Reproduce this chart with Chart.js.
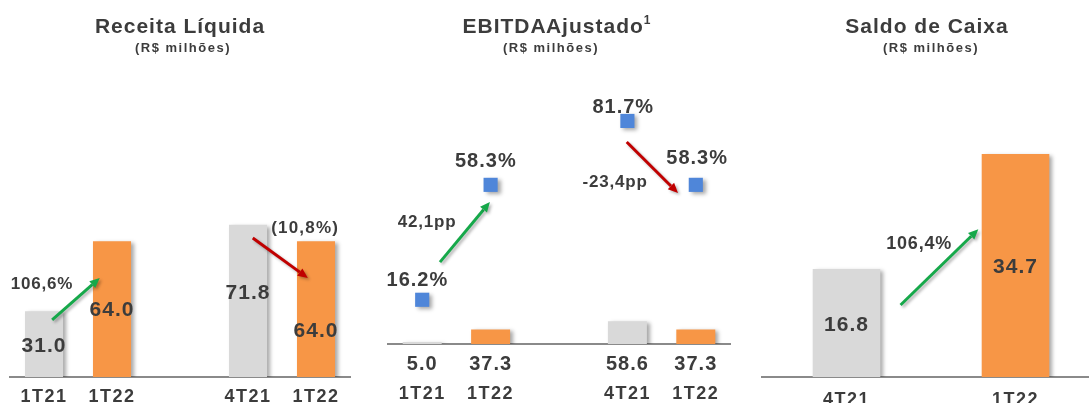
<!DOCTYPE html>
<html><head><meta charset="utf-8">
<script src="https://cdn.jsdelivr.net/npm/chart.js@4.4.1/dist/chart.umd.min.js"></script>
<style>
html,body{margin:0;padding:0;background:#fff;width:1089px;height:403px;overflow:hidden;position:relative;}
.panel{position:absolute;top:0;height:403px;}
.title{position:absolute;font-family:"Liberation Sans",Arial,sans-serif;font-weight:bold;color:#3c3c3c;white-space:nowrap;transform:translateX(-50%);line-height:normal;}
.t1{font-size:21px;top:14px;letter-spacing:1px;}
.t2{font-size:13px;top:40px;letter-spacing:1.5px;}
.t1 sup{font-size:12px;position:relative;top:-1px;}
</style></head><body>
<div class="panel" style="left:0;width:360px"><canvas id="c1"></canvas></div>
<div class="panel" style="left:360px;width:380px"><canvas id="c2"></canvas></div>
<div class="panel" style="left:740px;width:360px"><canvas id="c3"></canvas></div>
<div class="title t1" style="left:180px">Receita Líquida</div>
<div class="title t2" style="left:183px">(R$ milhões)</div>
<div class="title t1" style="left:557px;word-spacing:-6px">EBITDA Ajustado<sup>1</sup></div>
<div class="title t2" style="left:551px">(R$ milhões)</div>
<div class="title t1" style="left:927px">Saldo de Caixa</div>
<div class="title t2" style="left:931px">(R$ milhões)</div>
<script>
// ---- data ----
const receitaCats = ['1T21', '1T22', '', '4T21', '1T22'];
const receitaVals = [31.0, 64.0, null, 71.8, 64.0];
const receitaVar = ['106,6%', '(10,8%)'];

const ebitdaCats = ['1T21', '1T22', '', '4T21', '1T22'];
const ebitdaVals = [5.0, 37.3, null, 58.6, 37.3];
const ebitdaMargin = [16.2, 58.3, null, 81.7, 58.3];
const ebitdaVar = ['42,1pp', '-23,4pp'];

const caixaCats = ['4T21', '1T22'];
const caixaVals = [16.8, 34.7];
const caixaVar = ['106,4%'];

// ---- style ----
const GRAY = '#d9d9d9', ORANGE = '#f79646', BLUE = '#4f86d9';
const GREEN = '#16a84a', RED = '#c00000', TXT = '#3c3c3c';
const FONT = '"Liberation Sans", Arial, sans-serif';
const barColor = (cats) => cats.map(c => (c.startsWith('1T22') ? ORANGE : GRAY));

const annotate = {
  id: 'annotate',
  beforeDraw(chart) { chart.ctx.letterSpacing = '1.5px'; },
  beforeDatasetsDraw(chart) {
    const c = chart.ctx; c.save();
    c.shadowColor = 'rgba(0,0,0,0.35)'; c.shadowBlur = 4; c.shadowOffsetX = 3; c.shadowOffsetY = 2;
  },
  afterDatasetsDraw(chart, args, opts) {
    const c = chart.ctx; c.restore();
    const xs = chart.scales.x;
    const P = (x, y, ax) => [xs.getPixelForValue(x), chart.scales[ax || 'y'].getPixelForValue(y)];
    (opts.items || []).forEach(it => {
      c.save();
      if (it.kind === 'arrow') {
        const [x1, y1] = P(it.x1, it.y1, it.ax), [x2, y2] = P(it.x2, it.y2, it.ax);
        const a = Math.atan2(y2 - y1, x2 - x1), L = 10, W = 4.5;
        c.shadowColor = 'rgba(0,0,0,0.3)'; c.shadowBlur = 3; c.shadowOffsetX = 2; c.shadowOffsetY = 2;
        c.strokeStyle = it.color; c.fillStyle = it.color; c.lineWidth = 3;
        c.beginPath(); c.moveTo(x1, y1); c.lineTo(x2 - L * Math.cos(a), y2 - L * Math.sin(a)); c.stroke();
        c.beginPath(); c.moveTo(x2, y2);
        c.lineTo(x2 - L * Math.cos(a) + W * Math.sin(a), y2 - L * Math.sin(a) - W * Math.cos(a));
        c.lineTo(x2 - L * Math.cos(a) - W * Math.sin(a), y2 - L * Math.sin(a) + W * Math.cos(a));
        c.closePath(); c.fill();
      } else {
        let x, y;
        if (it.kind === 'below') { x = xs.getPixelForValue(it.x); y = chart.chartArea.bottom + it.dy; }
        else { [x, y] = P(it.x, it.y, it.ax); }
        c.font = 'bold ' + it.size + 'px ' + FONT;
        c.letterSpacing = (it.ls || 0) + 'px';
        c.fillStyle = TXT; c.textAlign = 'center'; c.textBaseline = 'middle';
        c.fillText(it.text, x, y);
      }
      c.restore();
    });
  },
  afterDraw(chart) { chart.ctx.letterSpacing = '0px'; }
};

function baseOpts(pad, yMax, padTicks, axisH, items, extraScales) {
  return {
    responsive: true, maintainAspectRatio: false, animation: false,
    layout: { padding: pad, autoPadding: false },
    plugins: { legend: { display: false }, tooltip: { enabled: false }, annotate: { items } },
    scales: Object.assign({
      x: {
        grid: { display: false, drawTicks: false },
        border: { display: true, color: '#8a8a8a', width: 2 },
        ticks: { padding: padTicks, color: TXT, font: { family: FONT, size: 18, weight: 'bold' } },
        afterFit: s => { s.height = axisH; s.paddingLeft = 0; s.paddingRight = 0; }
      },
      y: { display: false, min: 0, max: yMax }
    }, extraScales || {})
  };
}

const valLabels = (vals, pos, size) => vals.map((v, i) => v == null ? null :
  { kind: 'text', text: v.toFixed(1), x: i, y: pos[i], size, ls: 1 }).filter(Boolean);

// ---- Panel 1: Receita Líquida ----
const rLabelPos = [14.6, 31.6, null, 39.6, 21.7];
new Chart(document.getElementById('c1'), {
  type: 'bar',
  data: { labels: receitaCats, datasets: [{ data: receitaVals, backgroundColor: barColor(receitaCats),
    borderWidth: 0, categoryPercentage: 1, barPercentage: 0.56 }] },
  options: baseOpts({ left: 10, right: 10, top: 165, bottom: 0 }, 100, 9, 26, [
    ...valLabels(receitaVals, rLabelPos, 21),
    { kind: 'arrow', x1: 0.12, y1: 26.9, x2: 0.82, y2: 46.7, color: GREEN },
    { kind: 'arrow', x1: 3.07, y1: 65.6, x2: 3.88, y2: 46.7, color: RED },
    { kind: 'text', text: receitaVar[0], x: -0.03, y: 43.9, size: 17, ls: 0.8 },
    { kind: 'text', text: receitaVar[1], x: 3.84, y: 70.3, size: 17, ls: 1.2 }
  ]),
  plugins: [annotate]
});

// ---- Panel 2: EBITDA Ajustado ----
const mLabelX = [-0.07, 0.93, null, 2.94, 4.02];
const mLabelY = [23.1, 66.7, null, 86.8, 67.8];
new Chart(document.getElementById('c2'), {
  type: 'bar',
  data: { labels: ebitdaCats, datasets: [
    { type: 'line', data: ebitdaMargin, yAxisID: 'y2', showLine: false, pointStyle: 'rect',
      pointRadius: 10, pointBackgroundColor: BLUE, pointBorderWidth: 0, order: 0 },
    { data: ebitdaVals, backgroundColor: barColor(ebitdaCats), borderWidth: 0,
      categoryPercentage: 1, barPercentage: 0.57, order: 1 }
  ] },
  options: baseOpts({ left: 28, right: 10, top: 71, bottom: 0 }, 700, 39, 59, [
    ...ebitdaVals.map((v, i) => v == null ? null : { kind: 'below', text: v.toFixed(1), x: i, dy: 20, size: 20, ls: 1 }).filter(Boolean),
    ...ebitdaMargin.map((v, i) => v == null ? null : { kind: 'text', text: v.toFixed(1) + '%', x: mLabelX[i], y: mLabelY[i], ax: 'y2', size: 20, ls: 1 }).filter(Boolean),
    { kind: 'arrow', x1: 0.26, y1: 30.0, x2: 0.99, y2: 52.0, color: GREEN, ax: 'y2' },
    { kind: 'arrow', x1: 2.99, y1: 74.0, x2: 3.74, y2: 55.3, color: RED, ax: 'y2' },
    { kind: 'text', text: ebitdaVar[0], x: 0.07, y: 44.7, ax: 'y2', size: 17, ls: 0.8 },
    { kind: 'text', text: ebitdaVar[1], x: 2.82, y: 59.3, ax: 'y2', size: 17, ls: 0.8 }
  ], { y2: { display: false, min: 0, max: 100 } }),
  plugins: [annotate]
});

// ---- Panel 3: Saldo de Caixa ----
const cLabelPos = [8.1, 17.1];
new Chart(document.getElementById('c3'), {
  type: 'bar',
  data: { labels: caixaCats, datasets: [{ data: caixaVals, backgroundColor: barColor(caixaCats),
    borderWidth: 0, categoryPercentage: 1, barPercentage: 0.40 }] },
  options: baseOpts({ left: 22, right: 0, top: 120, bottom: 0 }, 40, 12, 26, [
    ...valLabels(caixaVals, cLabelPos, 21),
    { kind: 'arrow', x1: 0.32, y1: 11.2, x2: 0.78, y2: 23.0, color: GREEN },
    { kind: 'text', text: caixaVar[0], x: 0.43, y: 20.7, size: 18, ls: 0.8 }
  ]),
  plugins: [annotate]
});
</script>
</body></html>
